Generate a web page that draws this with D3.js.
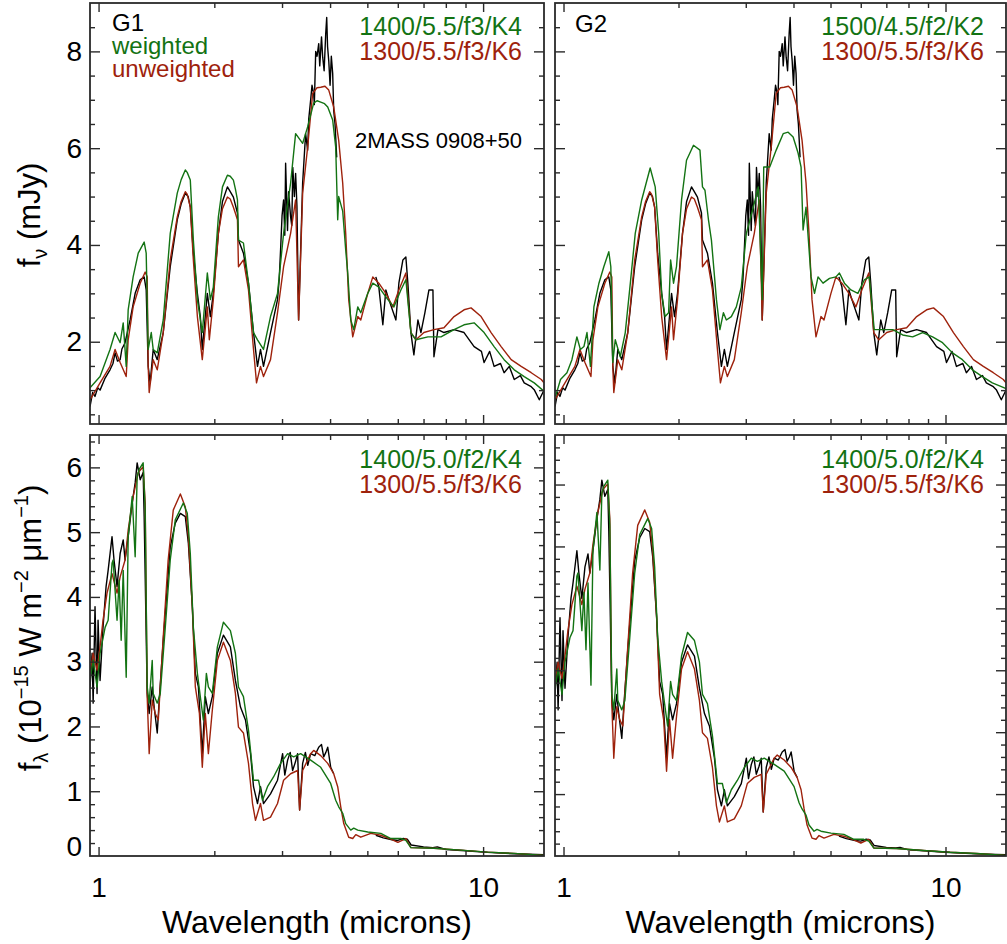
<!DOCTYPE html>
<html>
<head>
<meta charset="utf-8">
<script src="https://cdn.jsdelivr.net/npm/d3@7"></script>
<style>
body { margin: 0; background: #fff; }
text { font-family: "Liberation Sans", Arial, Helvetica, sans-serif; }
</style>
</head>
<body>
<div id="chart"></div>
<script>
// ---- data: [wavelength (micron), flux] ----

// observed f_nu (mJy), SpeX part and IRS part
const nuObsSpex = [
  [0.950,0.66],[0.965,0.95],[0.979,0.87],[0.995,1.05],[1.009,1.0],[1.040,1.25],[1.071,1.42],[1.090,1.55],
  [1.104,1.77],[1.120,1.6],[1.138,1.63],[1.150,1.85],[1.172,1.98],[1.208,2.45],[1.245,3.0],[1.283,3.28],
  [1.314,3.34],[1.330,3.07],[1.346,1.49],[1.362,1.15],[1.387,1.84],[1.421,1.63],[1.473,2.19],[1.536,3.55],
  [1.602,4.52],[1.64,4.85],[1.681,5.07],[1.71,5.0],[1.732,4.78],[1.764,3.83],[1.807,3.0],[1.839,2.52],
  [1.861,1.84],[1.918,3.0],[1.953,2.52],[1.988,3.0],[2.049,4.24],[2.10,4.9],[2.163,5.2],[2.20,5.1],
  [2.242,4.99],[2.297,4.66],[2.311,4.1],[2.381,3.83],[2.454,3.21],[2.529,2.19],[2.590,1.49],[2.637,1.84],
  [2.685,1.49],[2.800,2.19],[2.920,2.87],[2.95,3.3],[2.974,3.9],[3.0,4.6],[3.028,4.93],[3.05,4.2],
  [3.065,5.69],[3.10,4.3],[3.12,5.1],[3.158,4.58],[3.18,4.4],[3.20,5.6],[3.23,5.0],[3.254,5.48],
  [3.28,4.8],[3.313,2.45],[3.394,5.28],[3.455,6.3],[3.497,5.96],[3.52,6.6],[3.561,7.0],[3.59,7.3],
  [3.626,7.13],[3.64,6.9],[3.670,8.0],[3.70,7.9],[3.737,8.16],[3.76,7.7],[3.80,8.3],[3.827,7.88],
  [3.86,7.6],[3.897,8.37],[3.920,8.7],[3.94,8.1],[3.968,7.81],[4.00,7.3],[4.03,7.9],[4.063,7.54],
  [4.088,6.78],[4.12,6.5],[4.162,5.81]
];
const nuObsIrs = [
  [5.260,3.34],[5.356,3.13],[5.486,2.35],[5.586,3.07],[5.688,2.87],[5.932,2.45],[6.039,3.21],[6.186,3.69],
  [6.297,3.75],[6.373,3.21],[6.489,2.19],[6.607,1.73],[6.768,2.45],[6.891,2.19],[7.058,2.6],[7.230,3.07],
  [7.405,3.07],[7.450,1.69],[7.631,2.25],[7.911,2.19],[8.404,2.25],[8.922,2.19],[9.475,1.9],[9.9,1.8],
  [10.06,1.57],[10.4,1.8],[10.68,1.49],[11.1,1.55],[11.34,1.36],[11.7,1.49],[12.05,1.22],[12.5,1.3],
  [12.79,1.15],[13.3,1.08],[13.58,1.01],[14.00,0.8],[14.3,0.95],[14.4,1.0]
];
// model 1300/5.5/f3/K6, f_nu
const nuModelK6 = [
  [0.950,0.8],[1.009,1.15],[1.071,1.49],[1.104,1.84],[1.138,1.57],[1.180,1.28],[1.194,2.04],[1.230,2.72],
  [1.283,3.21],[1.322,3.44],[1.338,3.34],[1.346,1.49],[1.354,0.95],[1.387,1.63],[1.421,1.42],[1.473,2.19],
  [1.536,3.69],[1.602,4.58],[1.64,4.9],[1.681,5.1],[1.70,5.05],[1.732,4.78],[1.764,3.69],[1.807,2.52],
  [1.861,1.63],[1.918,2.72],[1.941,2.04],[1.988,2.87],[2.049,4.24],[2.10,4.75],[2.163,4.99],[2.20,4.95],
  [2.242,4.78],[2.27,4.65],[2.297,4.52],[2.311,3.55],[2.381,3.69],[2.454,3.07],[2.529,1.84],[2.575,1.15],
  [2.637,1.49],[2.685,1.28],[2.800,1.63],[2.920,2.6],[3.028,3.55],[3.158,4.24],[3.254,4.93],[3.313,2.45],
  [3.394,5.07],[3.497,6.02],[3.604,7.13],[3.70,7.25],[3.782,7.26],[3.88,7.28],[3.968,7.2],[4.088,6.85],
  [4.212,6.16],[4.314,5.28],[4.392,4.24],[4.472,2.87],[4.581,2.1],[4.721,2.52],[4.807,2.45],[5.013,3.0],
  [5.166,3.34],[5.356,3.21],[5.586,3.0],[5.826,2.72],[6.039,3.07],[6.297,3.42],[6.489,2.19],[6.687,2.04],
  [7.016,2.19],[7.450,2.25],[7.911,2.29],[8.404,2.52],[8.922,2.66],[9.304,2.7],[9.880,2.52],[10.49,2.19],
  [11.14,1.9],[11.83,1.63],[12.56,1.49],[13.34,1.36],[14.17,1.22],[14.4,1.15]
];
// model 1400/5.5/f3/K4, f_nu (G1 weighted)
const nuModelG1 = [
  [0.950,1.05],[1.009,1.28],[1.071,1.84],[1.104,2.19],[1.138,1.98],[1.159,2.39],[1.180,1.49],[1.194,2.66],
  [1.230,3.34],[1.268,3.83],[1.314,4.06],[1.330,3.83],[1.346,1.84],[1.371,2.19],[1.387,1.84],[1.421,1.77],
  [1.473,2.45],[1.536,4.24],[1.602,5.07],[1.64,5.35],[1.681,5.55],[1.70,5.5],[1.732,5.34],[1.764,4.1],
  [1.807,2.87],[1.861,2.19],[1.918,3.42],[1.953,2.87],[1.988,3.13],[2.049,4.58],[2.10,5.2],[2.163,5.44],
  [2.20,5.42],[2.242,5.34],[2.27,5.15],[2.297,4.93],[2.311,4.1],[2.381,4.04],[2.454,3.21],[2.529,2.19],
  [2.590,2.04],[2.685,1.84],[2.800,2.52],[2.920,3.0],[3.028,4.24],[3.158,5.28],[3.254,6.3],[3.394,6.1],
  [3.497,6.44],[3.626,6.93],[3.70,6.98],[3.782,6.95],[3.87,6.92],[3.944,6.85],[4.063,6.58],[4.137,6.02],
  [4.187,4.52],[4.212,5.0],[4.314,4.7],[4.392,3.9],[4.446,3.42],[4.527,2.45],[4.609,2.25],[4.721,2.72],
  [4.807,2.6],[5.013,3.0],[5.166,3.21],[5.356,3.13],[5.654,2.87],[5.861,2.72],[6.112,3.07],[6.297,3.28],
  [6.489,2.19],[6.687,2.04],[7.186,2.1],[7.770,2.1],[8.404,2.25],[8.922,2.35],[9.475,2.39],[10.06,2.19],
  [10.68,1.9],[11.34,1.63],[12.05,1.42],[12.79,1.28],[13.58,1.15],[14.4,0.98]
];
// model 1500/4.5/f2/K2, f_nu (G2 weighted)
const nuModelG2 = [
  [0.953,0.87],[0.982,1.22],[1.021,1.36],[1.052,1.63],[1.084,2.1],[1.107,1.84],[1.131,1.9],[1.152,2.19],
  [1.176,1.49],[1.201,2.72],[1.238,3.21],[1.275,3.55],[1.314,3.86],[1.330,3.55],[1.346,1.57],[1.366,2.04],
  [1.408,1.69],[1.451,2.19],[1.496,3.21],[1.541,4.24],[1.602,4.93],[1.686,5.59],[1.738,5.2],[1.775,4.24],
  [1.807,3.0],[1.845,2.52],[1.884,2.6],[1.907,3.69],[1.941,3.21],[1.976,3.55],[2.037,4.93],[2.099,5.75],
  [2.189,6.06],[2.276,5.96],[2.311,5.2],[2.346,5.13],[2.396,4.52],[2.439,4.1],[2.514,2.87],[2.567,2.25],
  [2.622,2.6],[2.669,2.45],[2.750,2.52],[2.834,2.72],[2.920,3.13],[3.010,4.24],[3.140,4.78],[3.235,5.2],
  [3.313,2.87],[3.343,5.61],[3.466,5.61],[3.604,5.96],[3.759,6.3],[3.873,6.33],[3.991,6.23],[4.112,5.9],
  [4.187,5.61],[4.238,4.31],[4.314,4.78],[4.446,3.34],[4.541,3.0],[4.638,3.34],[4.779,3.21],[4.969,3.31],
  [5.166,3.34],[5.276,3.42],[5.437,3.21],[5.654,3.07],[5.897,3.0],[6.132,3.28],[6.316,3.34],[6.508,2.25],
  [6.850,2.25],[7.276,2.25],[7.724,2.14],[8.203,2.1],[8.710,2.19],[9.250,2.1],[9.822,1.98],[10.43,1.77],
  [11.07,1.63],[11.76,1.42],[12.49,1.28],[13.26,1.15],[14.21,1.05],[14.4,1.03]
];

// observed f_lambda (1e-15 W m-2 um-1)
const lamObsSpex = [
  [0.950,2.6],[0.962,3.13],[0.968,2.36],[0.979,3.85],[0.991,2.51],[0.997,3.64],[1.009,2.71],[1.027,3.53],
  [1.046,4.16],[1.059,4.41],[1.084,4.93],[1.097,4.57],[1.117,4.16],[1.138,4.67],[1.159,4.88],[1.172,4.57],
  [1.194,4.93],[1.223,5.45],[1.245,5.76],[1.260,6.07],[1.283,5.81],[1.306,5.92],[1.314,5.24],[1.338,2.51],
  [1.354,2.2],[1.379,2.61],[1.395,2.3],[1.421,1.9],[1.438,2.41],[1.473,3.33],[1.509,4.16],[1.536,4.77],
  [1.583,5.14],[1.632,5.29],[1.681,5.24],[1.712,4.83],[1.753,3.85],[1.785,2.82],[1.818,2.61],[1.861,1.58],
  [1.895,2.46],[1.930,2.2],[1.976,2.46],[2.037,3.13],[2.112,3.41],[2.202,3.23],[2.269,2.71],[2.339,2.3],
  [2.410,2.1],[2.484,1.58],[2.529,1.07],[2.590,0.81],[2.637,1.07],[2.685,0.81],[2.800,0.96],[2.920,1.17],
  [3.010,1.58],[3.05,1.25],[3.102,1.48],[3.15,1.6],[3.196,1.32],[3.25,1.45],[3.293,1.58],[3.333,0.71],
  [3.394,1.43],[3.45,1.6],[3.5,1.4],[3.561,1.58],[3.65,1.55],[3.737,1.68],[3.8,1.72],[3.850,1.53],
  [3.9,1.6],[3.944,1.68],[4.015,1.37],[4.088,1.27]
];
const lamObsIrs = [
  [5.26,0.32],[5.5,0.28],[5.8,0.25],[6.0,0.24],[6.2,0.27],[6.35,0.26],[6.5,0.17],[7.0,0.14],[7.4,0.13],
  [7.6,0.14],[8.0,0.1],[9.0,0.08],[10.0,0.06],[12.0,0.035],[14.4,0.02]
];
// model 1300/5.5/f3/K6, f_lambda
const lamModelK6 = [
  [0.950,2.82],[0.968,3.13],[0.991,2.87],[1.009,3.23],[1.027,3.64],[1.052,4.06],[1.084,4.36],[1.117,4.06],
  [1.138,4.31],[1.172,4.57],[1.194,5.03],[1.230,5.55],[1.268,5.92],[1.306,6.01],[1.322,5.45],[1.338,2.46],
  [1.354,1.58],[1.379,2.41],[1.404,2.2],[1.430,2.1],[1.473,3.38],[1.517,4.57],[1.564,5.34],[1.632,5.59],
  [1.681,5.39],[1.712,4.93],[1.753,3.85],[1.785,2.61],[1.829,2.2],[1.861,1.37],[1.895,2.2],[1.930,1.58],
  [1.976,2.25],[2.037,3.02],[2.112,3.3],[2.202,3.02],[2.269,2.51],[2.311,1.99],[2.381,1.9],[2.454,1.43],
  [2.514,0.81],[2.559,0.55],[2.637,0.81],[2.685,0.55],[2.800,0.6],[2.920,0.81],[3.028,1.17],[3.158,1.27],
  [3.293,1.32],[3.333,0.71],[3.394,1.32],[3.561,1.58],[3.626,1.63],[3.782,1.55],[3.944,1.43],[4.088,1.27],
  [4.187,1.07],[4.264,0.76],[4.341,0.5],[4.472,0.29],[4.581,0.27],[4.666,0.33],[4.807,0.29],[5.104,0.35],
  [5.420,0.32],[5.755,0.26],[6.003,0.21],[6.297,0.27],[6.489,0.13],[7.450,0.12],[8.736,0.09],[10.27,0.06],
  [12.05,0.04],[14.4,0.01]
];
// model 1400/5.0/f2/K4, f_lambda
const lamModelK4 = [
  [0.950,2.71],[0.968,3.02],[0.991,2.61],[1.009,3.13],[1.040,3.53],[1.059,3.64],[1.084,4.52],[1.091,4.57],
  [1.117,3.64],[1.131,4.26],[1.145,3.33],[1.159,4.41],[1.180,2.76],[1.194,4.93],[1.223,5.55],[1.245,4.62],
  [1.260,5.86],[1.275,5.97],[1.306,6.07],[1.322,5.34],[1.338,2.61],[1.354,2.36],[1.379,3.02],[1.387,2.51],
  [1.421,2.36],[1.447,2.51],[1.491,3.53],[1.536,4.57],[1.583,5.19],[1.661,5.45],[1.701,5.29],[1.732,4.67],
  [1.764,3.53],[1.807,2.82],[1.839,2.46],[1.873,2.1],[1.907,2.82],[1.930,2.61],[1.976,2.51],[2.037,3.23],
  [2.112,3.61],[2.202,3.48],[2.269,3.13],[2.311,2.61],[2.381,2.46],[2.454,1.94],[2.529,1.17],[2.606,1.17],
  [2.669,0.86],[2.750,1.07],[2.851,1.22],[2.974,1.43],[3.102,1.58],[3.216,1.53],[3.353,1.58],[3.561,1.48],
  [3.782,1.37],[4.014,1.12],[4.137,0.86],[4.212,0.76],[4.314,0.66],[4.392,0.5],[4.527,0.4],[4.609,0.43],
  [4.721,0.4],[5.013,0.37],[5.420,0.35],[5.755,0.27],[6.112,0.27],[6.297,0.24],[6.489,0.13],[7.450,0.12],
  [8.736,0.09],[10.27,0.06],[12.05,0.04],[14.4,0.01]
];

// tick values
const xMajorTicks = [1, 10];
const xMinorTicks = [2, 3, 4, 5, 6, 7, 8, 9];
const nuMajorTicks = [2, 4, 6, 8];
const lamMajorTicks = [0, 1, 2, 3, 4, 5, 6];

// ---- layout ----
const width = 1007, height = 944;
const green = "#137313", red = "#9e220c";
const xDomain = [0.95, 14.4];

const svg = d3.select("#chart").append("svg")
  .attr("width", width)
  .attr("height", height);

svg.append("rect").attr("width", width).attr("height", height).attr("fill", "#fff");

const panels = [
  {id: "tl", left: 90, right: 544, top: 3, bottom: 424, yDomain: [0.3, 9.0], major: nuMajorTicks, minorStep: 0.5,
   obs: [nuObsSpex, nuObsIrs], red: nuModelK6, green: nuModelG1, greenText: "1400/5.5/f3/K4",
   redText: "1300/5.5/f3/K6", labelY: 35, yLabels: true, xLabels: false},
  {id: "tr", left: 555, right: 1006, top: 3, bottom: 424, yDomain: [0.3, 9.0], major: nuMajorTicks, minorStep: 0.5,
   obs: [nuObsSpex, nuObsIrs], red: nuModelK6, green: nuModelG2, greenText: "1500/4.5/f2/K2",
   redText: "1300/5.5/f3/K6", labelY: 35, yLabels: false, xLabels: false},
  {id: "bl", left: 90, right: 544, top: 435, bottom: 856, yDomain: [0, 6.5], major: lamMajorTicks, minorStep: 0.2,
   obs: [lamObsSpex, lamObsIrs], red: lamModelK6, green: lamModelK4, greenText: "1400/5.0/f2/K4",
   redText: "1300/5.5/f3/K6", labelY: 468, yLabels: true, xLabels: true},
  {id: "br", left: 555, right: 1006, top: 435, bottom: 856, yDomain: [0, 6.8], major: lamMajorTicks, minorStep: 0.2,
   obs: [lamObsSpex, lamObsIrs], red: lamModelK6, green: lamModelK4, greenText: "1400/5.0/f2/K4",
   redText: "1300/5.5/f3/K6", labelY: 468, yLabels: false, xLabels: true}
];

const frameColor = "#2a2a2a";

panels.forEach(p => {
  const x = d3.scaleLog().domain(xDomain).range([p.left, p.right]);
  const y = d3.scaleLinear().domain(p.yDomain).range([p.bottom, p.top]);

  // minor y ticks, skipping majors and the frame edges
  const minor = d3.range(Math.round(p.yDomain[0] / p.minorStep), Math.round(p.yDomain[1] / p.minorStep) + 1)
    .map(i => +(i * p.minorStep).toFixed(2))
    .filter(v => v > p.yDomain[0] && v < p.yDomain[1] && !p.major.includes(v));
  const major = p.major.filter(v => v > p.yDomain[0] && v < p.yDomain[1]);

  const g = svg.append("g");

  // clip for curves
  svg.append("clipPath").attr("id", "clip-" + p.id)
    .append("rect")
    .attr("x", p.left).attr("y", p.top)
    .attr("width", p.right - p.left).attr("height", p.bottom - p.top);

  const line = d3.line().x(d => x(d[0])).y(d => y(d[1]));
  const curves = g.append("g").attr("clip-path", "url(#clip-" + p.id + ")")
    .attr("fill", "none").attr("stroke-width", 1.4).attr("stroke-linejoin", "round");

  p.obs.forEach(seg => {
    curves.append("path").datum(seg).attr("d", line).attr("stroke", "#000");
  });
  curves.append("path").datum(p.red).attr("d", line).attr("stroke", red);
  curves.append("path").datum(p.green).attr("d", line).attr("stroke", green);

  // ticks on all four sides, pointing inward
  const tickAxes = [
    [d3.axisBottom(x).tickValues(xMajorTicks).tickSize(-9), `translate(0,${p.bottom})`],
    [d3.axisBottom(x).tickValues(xMinorTicks).tickSize(-5), `translate(0,${p.bottom})`],
    [d3.axisTop(x).tickValues(xMajorTicks).tickSize(-9), `translate(0,${p.top})`],
    [d3.axisTop(x).tickValues(xMinorTicks).tickSize(-5), `translate(0,${p.top})`],
    [d3.axisLeft(y).tickValues(major).tickSize(-10), `translate(${p.left},0)`],
    [d3.axisLeft(y).tickValues(minor).tickSize(-5), `translate(${p.left},0)`],
    [d3.axisRight(y).tickValues(major).tickSize(-10), `translate(${p.right},0)`],
    [d3.axisRight(y).tickValues(minor).tickSize(-5), `translate(${p.right},0)`]
  ];
  tickAxes.forEach(([ax, tr]) => {
    const a = g.append("g").attr("transform", tr).call(ax.tickFormat(""));
    a.select(".domain").remove();
    a.selectAll("line").attr("stroke", frameColor).attr("stroke-width", 1.4);
  });

  // frame
  g.append("rect")
    .attr("x", p.left).attr("y", p.top)
    .attr("width", p.right - p.left).attr("height", p.bottom - p.top)
    .attr("fill", "none").attr("stroke", frameColor).attr("stroke-width", 1.8);

  // tick labels
  if (p.yLabels) {
    const ya = g.append("g").attr("transform", `translate(${p.left},0)`)
      .call(d3.axisLeft(y).tickValues(p.major).tickSize(0).tickPadding(8).tickFormat(d3.format("d")));
    ya.select(".domain").remove();
    ya.selectAll("text").attr("font-size", 28).attr("fill", "#000")
      .attr("font-family", "Liberation Sans, Arial, sans-serif")
      .attr("y", d => d === p.yDomain[0] ? -9 : 0);
  }
  if (p.xLabels) {
    const xa = g.append("g").attr("transform", `translate(0,${p.bottom})`)
      .call(d3.axisBottom(x).tickValues(xMajorTicks).tickSize(0).tickFormat(d3.format("d")));
    xa.select(".domain").remove();
    xa.selectAll("text").attr("font-size", 28).attr("fill", "#000")
      .attr("font-family", "Liberation Sans, Arial, sans-serif")
      .attr("y", 41).attr("dy", 0);
    g.append("text")
      .attr("x", (p.left + p.right) / 2).attr("y", 933)
      .attr("text-anchor", "middle").attr("font-size", 32)
      .text("Wavelength (microns)");
  }

  // model labels
  g.append("text").attr("x", p.right - 22).attr("y", p.labelY)
    .attr("text-anchor", "end").attr("font-size", 25).attr("fill", green).text(p.greenText);
  g.append("text").attr("x", p.right - 22).attr("y", p.labelY + 25)
    .attr("text-anchor", "end").attr("font-size", 25).attr("fill", red).text(p.redText);
});

// panel annotations
svg.append("text").attr("x", 112).attr("y", 31).attr("font-size", 24).text("G1");
svg.append("text").attr("x", 112).attr("y", 54).attr("font-size", 24).attr("fill", green).text("weighted");
svg.append("text").attr("x", 112).attr("y", 77).attr("font-size", 24).attr("fill", red).text("unweighted");
svg.append("text").attr("x", 575).attr("y", 32).attr("font-size", 24).text("G2");
svg.append("text").attr("x", 522).attr("y", 148).attr("text-anchor", "end").attr("font-size", 22)
  .text("2MASS 0908+50");

// y axis titles
const nuTitle = svg.append("text")
  .attr("transform", "translate(40,215) rotate(-90)")
  .attr("text-anchor", "middle").attr("font-size", 31);
nuTitle.append("tspan").text("f");
nuTitle.append("tspan").attr("font-size", 20).attr("dy", 7).text("\u03bd");
nuTitle.append("tspan").attr("dy", -7).text(" (mJy)");

const lamTitle = svg.append("text")
  .attr("transform", "translate(41,628) rotate(-90)")
  .attr("text-anchor", "middle").attr("font-size", 31);
lamTitle.append("tspan").text("f");
lamTitle.append("tspan").attr("font-size", 20).attr("dy", 7).text("\u03bb");
lamTitle.append("tspan").attr("dy", -7).text(" (10");
lamTitle.append("tspan").attr("font-size", 20).attr("dy", -13).text("\u221215");
lamTitle.append("tspan").attr("dy", 13).text(" W m");
lamTitle.append("tspan").attr("font-size", 20).attr("dy", -13).text("\u22122");
lamTitle.append("tspan").attr("dy", 13).text(" \u03bcm");
lamTitle.append("tspan").attr("font-size", 20).attr("dy", -13).text("\u22121");
lamTitle.append("tspan").attr("dy", 13).text(")");
</script>
</body>
</html>
